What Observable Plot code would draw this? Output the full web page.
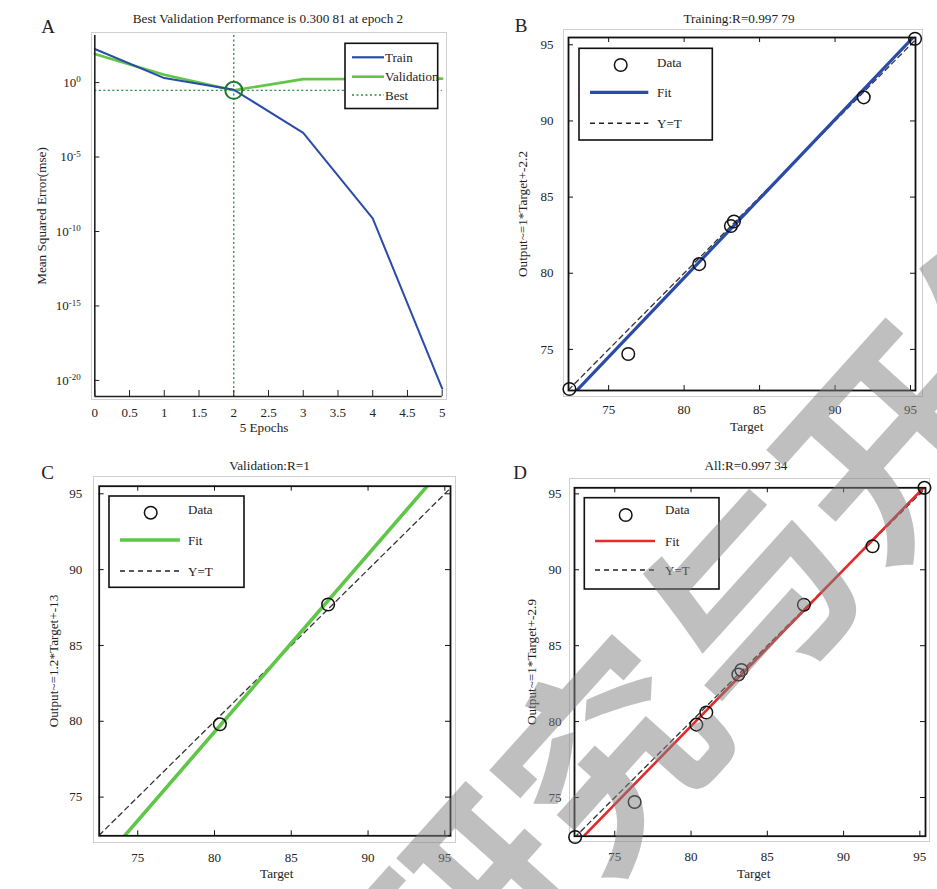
<!DOCTYPE html>
<html><head><meta charset="utf-8">
<script src="https://cdn.jsdelivr.net/npm/d3@7"></script>
<script src="https://cdn.jsdelivr.net/npm/@observablehq/plot@0.6"></script>
<style>
body{margin:0;background:#fff;}
#root{position:relative;width:937px;height:889px;overflow:hidden;font-family:"Liberation Serif","Times New Roman",serif;color:#222;background:#fff;}
</style></head>
<body><div id="root"></div>
<script>
// ---------- data ----------
const epochs = [0, 1, 2, 3, 4, 5];
const trainMSE = [180, 2.0, 0.33, 4.2e-4, 7.6e-10, 2.8e-21];
const valMSE = [83, 3.3, 0.30081, 1.7, 1.75, 1.85];
const bestEpoch = 2;
const bestPerf = 0.30081;
const epochTicks = [0, 0.5, 1, 1.5, 2, 2.5, 3, 3.5, 4, 4.5, 5];
const mseTicks = [1, 1e-5, 1e-10, 1e-15, 1e-20];

const trainTargets = [72.4, 76.3, 81.0, 83.1, 83.3, 91.9, 95.3];
const trainOutputs = [72.4, 74.7, 80.6, 83.1, 83.4, 91.55, 95.4];
const valTargets = [80.35, 87.4];
const valOutputs = [79.8, 87.7];
const allTargets = trainTargets.concat(valTargets);
const allOutputs = trainOutputs.concat(valOutputs);
const regTicks = [75, 80, 85, 90, 95];

const fitSlopes = [1.04, 1.17, 1.03];        // Training, Validation, All
const fitIntercepts = [-3.5, -14.3, -2.7];
const panelTitles = ["Best Validation Performance is 0.300 81 at epoch 2", "Training:R=0.997 79", "Validation:R=1", "All:R=0.997 34"];
const yLabels = ["Mean Squared Error(mse)", "Output~=1*Target+-2.2", "Output~=1.2*Target+-13", "Output~=1*Target+-2.9"];
const xLabels = ["5 Epochs", "Target", "Target", "Target"];
const panelLetters = ["A", "B", "C", "D"];
const legendA = ["Train", "Validation", "Best"];
const legendReg = ["Data", "Fit", "Y=T"];
const watermarkText = "研究与开发";

// ---------- colours ----------
const cTrain = "#2b4ba8", cVal = "#5fc648", cBest = "#2a8a3e", cRed = "#e42a2a";
const fontFam = "'Liberation Serif','Times New Roman',serif";

const root = document.getElementById("root");
function place(el, left, top) { el.style.position = "absolute"; el.style.left = left + "px"; el.style.top = top + "px"; root.appendChild(el); }
function grayBox(x0, y0, x1, y1) {
  const d = document.createElement("div");
  d.style.cssText = `position:absolute;left:${x0}px;top:${y0}px;width:${x1 - x0}px;height:${y1 - y0}px;border:1.6px solid #cfcfcf;box-sizing:border-box;`;
  root.appendChild(d);
}
function txt(s, cx, cy, size, rot = 0) {
  const d = document.createElement("div");
  d.textContent = s;
  d.style.cssText = `position:absolute;left:${cx}px;top:${cy}px;transform:translate(-50%,-50%) rotate(${rot}deg);font-size:${size}px;white-space:nowrap;line-height:1;color:#222;`;
  root.appendChild(d);
}
const plotStyle = {background: "transparent", fontFamily: fontFam, fontSize: "13px", color: "#222", overflow: "visible"};

// ---------- Panel A ----------
const powFmt = d => "10^" + Math.round(Math.log10(d));
(function () {
  const L = 0, T = 0, W = 460, H = 440;
  const fx0 = 94.3, fy0 = 35, fx1 = 441.7, fy1 = 396;
  const fw = fx1 - fx0, fh = fy1 - fy0;
  const yDom = [Math.pow(10, -21.08), Math.pow(10, 3.16)];
  const train = epochs.map((e, i) => ({e, v: trainMSE[i]}));
  const val = epochs.map((e, i) => ({e, v: valMSE[i]}));
  grayBox(90.7, 32.3, 446.7, 399.8);
  const chart = Plot.plot({
    width: W, height: H,
    marginLeft: fx0 - L, marginTop: fy0 - T, marginRight: L + W - fx1, marginBottom: T + H - fy1,
    x: {domain: [0, 5]},
    y: {type: "log", domain: yDom},
    style: plotStyle,
    marks: [
      Plot.ruleY([bestPerf], {stroke: cBest, strokeWidth: 1.3, strokeDasharray: "2,2.5"}),
      Plot.ruleX([bestEpoch], {stroke: cBest, strokeWidth: 1.3, strokeDasharray: "2,2.5"}),
      Plot.line(val, {x: "e", y: "v", stroke: cVal, strokeWidth: 2.6}),
      Plot.line(train, {x: "e", y: "v", stroke: cTrain, strokeWidth: 2}),
      Plot.dot([{e: bestEpoch, v: bestPerf}], {x: "e", y: "v", r: 8.5, stroke: "#1d7a2d", strokeWidth: 2, fill: "none"}),
      Plot.ruleX([0], {stroke: "#222", strokeWidth: 1.6}),
      Plot.ruleY([yDom[0]], {stroke: "#222", strokeWidth: 1.6}),
      Plot.ruleX(epochTicks, {x: d => d, insetTop: fh - 6, stroke: "#222"}),
      Plot.ruleY(mseTicks, {y: d => d, insetRight: fw - 5, stroke: "#222"}),
      Plot.axisX({ticks: epochTicks, tickSize: 0, tickPadding: 11, label: null, tickFormat: d => String(d)}),
      Plot.axisY({ticks: mseTicks, tickSize: 0, tickPadding: 14, label: null, tickFormat: powFmt})
    ]
  });
  // turn "10^e" tick labels into base + superscript exponent
  d3.select(chart).selectAll("text").each(function () {
    const s = this.textContent;
    if (s.indexOf("^") < 0) return;
    const [b, e] = s.split("^");
    const t = d3.select(this);
    t.text(b);
    t.append("tspan").attr("dy", "-0.5em").attr("font-size", "9px").text(e);
  });
  place(chart, L, T);
})();

// ---------- Regression panels ----------
function regPanel(o) {
  const [fx0, fy0, fx1, fy1] = o.frame;
  const fw = fx1 - fx0, fh = fy1 - fy0;
  const pts = o.targets.map((t, i) => ({t, o: o.outputs[i]}));
  const fit = o.xDomain.map(t => ({t, o: o.slope * t + o.intercept}));
  const yt = o.xDomain.map(t => ({t, o: t}));
  grayBox(...o.gray);
  const chart = Plot.plot({
    width: o.W, height: o.H,
    marginLeft: fx0 - o.L, marginTop: fy0 - o.T, marginRight: o.L + o.W - fx1, marginBottom: o.T + o.H - fy1,
    x: {domain: o.xDomain}, y: {domain: o.yDomain},
    style: plotStyle,
    marks: [
      Plot.line(yt, {x: "t", y: "o", stroke: "#333", strokeWidth: 1.3, strokeDasharray: "5,4", clip: true}),
      Plot.line(fit, {x: "t", y: "o", stroke: o.color, strokeWidth: o.fitWidth, clip: true}),
      Plot.dot(pts, {x: "t", y: "o", r: 6.3, stroke: "#111", strokeWidth: 1.5, fill: "none"}),
      Plot.frame({stroke: "#111", strokeWidth: 1.8}),
      Plot.ruleX(regTicks, {x: d => d, insetTop: fh - 5, stroke: "#111"}),
      Plot.ruleX(regTicks, {x: d => d, insetBottom: fh - 5, stroke: "#111"}),
      Plot.ruleY(regTicks, {y: d => d, insetRight: fw - 5, stroke: "#111"}),
      Plot.ruleY(regTicks, {y: d => d, insetLeft: fw - 5, stroke: "#111"}),
      Plot.axisX({ticks: regTicks, tickSize: 0, tickPadding: o.padX, label: null, tickFormat: d => String(d)}),
      Plot.axisY({ticks: regTicks, tickSize: 0, tickPadding: o.padY, label: null, tickFormat: d => String(d)})
    ]
  });
  place(chart, o.L, o.T);
}

regPanel({L: 480, T: 0, W: 457, H: 440, frame: [568, 37, 915, 390], gray: [563.3, 29.3, 922.7, 396.7],
  xDomain: [72.34, 95.33], yDomain: [72.3, 95.48], targets: trainTargets, outputs: trainOutputs,
  slope: fitSlopes[0], intercept: fitIntercepts[0], color: cTrain, fitWidth: 3.2, padX: 14, padY: 15});
regPanel({L: 0, T: 440, W: 460, H: 449, frame: [98.7, 485.7, 450, 835.3], gray: [92.7, 476, 456, 842.7],
  xDomain: [72.49, 95.37], yDomain: [72.45, 95.5], targets: valTargets, outputs: valOutputs,
  slope: fitSlopes[1], intercept: fitIntercepts[1], color: cVal, fitWidth: 3.6, padX: 16.5, padY: 17});
regPanel({L: 480, T: 440, W: 457, H: 449, frame: [574, 487.3, 925, 835.7], gray: [569.3, 478.3, 930, 841.7],
  xDomain: [72.36, 95.37], yDomain: [72.45, 95.4], targets: allTargets, outputs: allOutputs,
  slope: fitSlopes[2], intercept: fitIntercepts[2], color: cRed, fitWidth: 2.6, padX: 16, padY: 13});

// ---------- titles & labels ----------
txt(panelTitles[0], 268, 18.5, 13.2);
txt(panelTitles[1], 739, 18.5, 13.2);
txt(panelTitles[2], 269.5, 466, 13.2);
txt(panelTitles[3], 746, 465.7, 13.2);
txt(panelLetters[0], 48, 26, 19);
txt(panelLetters[1], 521, 25, 19);
txt(panelLetters[2], 47.5, 471.7, 19);
txt(panelLetters[3], 520, 471.7, 19);
txt(xLabels[0], 264, 427.5, 13.2);
txt(xLabels[1], 746.7, 426.7, 13.2);
txt(xLabels[2], 276.7, 874.3, 13.2);
txt(xLabels[3], 753.7, 874.3, 13.2);
txt(yLabels[0], 41.5, 215.5, 13.2, -90);
txt(yLabels[1], 523, 213.5, 13.2, -90);
txt(yLabels[2], 54, 660.5, 13.2, -90);
txt(yLabels[3], 531.5, 661.5, 13.2, -90);

// ---------- legends ----------
const lg = d3.select(root).append("svg").attr("width", 937).attr("height", 889)
  .style("position", "absolute").style("left", "0px").style("top", "0px")
  .style("font-family", fontFam).style("font-size", "13px");
function legendBox(x0, y0, x1, y1) {
  lg.append("rect").attr("x", x0).attr("y", y0).attr("width", x1 - x0).attr("height", y1 - y0)
    .attr("fill", "#fff").attr("stroke", "#111").attr("stroke-width", 1.6);
}
function legLine(x0, x1, y, color, w, dash) {
  lg.append("line").attr("x1", x0).attr("x2", x1).attr("y1", y).attr("y2", y)
    .attr("stroke", color).attr("stroke-width", w).attr("stroke-dasharray", dash || null);
}
function legText(s, x, y) {
  lg.append("text").attr("x", x).attr("y", y).attr("dy", "0.35em").attr("fill", "#222").text(s);
}
function legDot(cx, cy) {
  lg.append("circle").attr("cx", cx).attr("cy", cy).attr("r", 6.3).attr("fill", "none").attr("stroke", "#111").attr("stroke-width", 1.5);
}
// A
legendBox(345, 43.3, 437.7, 108.5);
legLine(352, 384, 57.3, cTrain, 2.2); legText(legendA[0], 385, 57.3);
legLine(352, 384, 76.7, cVal, 2.6); legText(legendA[1], 385, 76.7);
legLine(352, 384, 95, cBest, 1.3, "2,2.5"); legText(legendA[2], 385, 95);
// B
legendBox(579, 48.3, 712.3, 140);
legDot(620.7, 65); legText(legendReg[0], 657, 62);
legLine(590, 648.3, 92.3, cTrain, 3.2); legText(legendReg[1], 657, 92.3);
legLine(590, 648.3, 123.3, "#222", 1.4, "5,4"); legText(legendReg[2], 657, 123.3);
// C
legendBox(109, 496, 244, 587.3);
legDot(150.7, 512.7); legText(legendReg[0], 188, 509);
legLine(120, 180, 540, cVal, 3.6); legText(legendReg[1], 188, 540);
legLine(120, 180, 571, "#222", 1.4, "5,4"); legText(legendReg[2], 188, 571);
// D
legendBox(584.3, 497.7, 719, 589);
legDot(625.7, 515); legText(legendReg[0], 665, 509);
legLine(595, 655, 541, cRed, 2.6); legText(legendReg[1], 665, 541);
legLine(595, 655, 570, "#222", 1.4, "5,4"); legText(legendReg[2], 665, 570);

// ---------- watermark ----------
const wm = d3.select(root).append("svg").attr("width", 937).attr("height", 889)
  .style("position", "absolute").style("left", "0px").style("top", "0px").style("pointer-events", "none");
wm.append("text").attr("transform", "translate(740,590) rotate(-48)")
  .attr("text-anchor", "middle").attr("dominant-baseline", "central")
  .attr("font-family", "'Noto Sans CJK SC'").attr("font-weight", 700).attr("font-size", 210)
  .attr("fill", "rgba(128,128,128,0.5)").text(watermarkText);
</script>
</body></html>
